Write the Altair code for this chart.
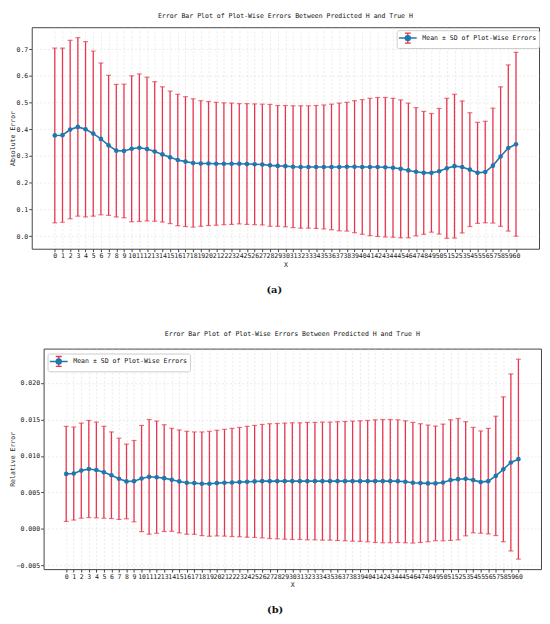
import altair as alt
import pandas as pd

x_vals = list(range(61))

mean_a = [0.377, 0.378, 0.399, 0.409, 0.400, 0.384, 0.364, 0.340, 0.320, 0.319,
          0.327, 0.331, 0.326, 0.317, 0.306, 0.295, 0.285, 0.279, 0.274, 0.272,
          0.272, 0.271, 0.271, 0.271, 0.271, 0.270, 0.269, 0.268, 0.265, 0.263,
          0.262, 0.260, 0.259, 0.259, 0.259, 0.259, 0.259, 0.259, 0.260, 0.260,
          0.259, 0.259, 0.259, 0.258, 0.256, 0.252, 0.246, 0.241, 0.237, 0.237,
          0.243, 0.254, 0.262, 0.259, 0.249, 0.237, 0.240, 0.264, 0.298, 0.330, 0.344]
sd_a = [0.327, 0.326, 0.334, 0.334, 0.328, 0.309, 0.284, 0.262, 0.248, 0.250,
        0.273, 0.276, 0.269, 0.261, 0.253, 0.248, 0.246, 0.243, 0.240, 0.235,
        0.232, 0.230, 0.228, 0.227, 0.225, 0.226, 0.226, 0.226, 0.228, 0.226,
        0.227, 0.228, 0.229, 0.229, 0.230, 0.232, 0.235, 0.239, 0.241, 0.247,
        0.252, 0.257, 0.260, 0.261, 0.260, 0.258, 0.252, 0.240, 0.230, 0.222,
        0.235, 0.262, 0.269, 0.247, 0.213, 0.189, 0.190, 0.215, 0.261, 0.311, 0.344]

mean_b = [0.00754, 0.00759, 0.00799, 0.00821, 0.00808, 0.00776, 0.00736, 0.00687, 0.00651, 0.00655,
          0.00691, 0.00714, 0.00709, 0.00696, 0.00673, 0.00651, 0.00633, 0.00628, 0.00619, 0.00619,
          0.00628, 0.00633, 0.00637, 0.00642, 0.00646, 0.00651, 0.00655, 0.00655, 0.00655, 0.00655,
          0.00655, 0.00655, 0.00655, 0.00655, 0.00655, 0.00655, 0.00655, 0.00655, 0.00655, 0.00655,
          0.00655, 0.00655, 0.00655, 0.00655, 0.00655, 0.00646, 0.00633, 0.00628, 0.00624, 0.00624,
          0.00637, 0.00669, 0.00682, 0.00687, 0.00669, 0.00642, 0.00655, 0.00727, 0.00817, 0.00911, 0.00956]
sd_b = [0.00651, 0.00637, 0.00651, 0.00665, 0.00655, 0.00629, 0.00593, 0.00556, 0.00511, 0.00557,
        0.00727, 0.00785, 0.00768, 0.00731, 0.00705, 0.00705, 0.00705, 0.00701, 0.00710, 0.00719,
        0.00723, 0.00731, 0.00741, 0.00749, 0.00759, 0.00767, 0.00777, 0.00786, 0.00790, 0.00795,
        0.00799, 0.00799, 0.00804, 0.00804, 0.00808, 0.00808, 0.00813, 0.00817, 0.00822, 0.00826,
        0.00831, 0.00840, 0.00844, 0.00844, 0.00840, 0.00835, 0.00826, 0.00813, 0.00799, 0.00785,
        0.00799, 0.00826, 0.00831, 0.00781, 0.00722, 0.00700, 0.00723, 0.00817, 0.00992, 0.01212, 0.01369]

series_label = "Mean \u00b1 SD of Plot-Wise Errors"
title_text = "Error Bar Plot of Plot-Wise Errors Between Predicted H and True H"

ticks_a = [0.0, 0.1, 0.2, 0.3, 0.4, 0.5, 0.6, 0.7]
ticks_b = [-0.005, 0.0, 0.005, 0.010, 0.015, 0.020]

RED = "#e8344c"
BLUE = "#1f78ad"
MONO = "DejaVu Sans Mono"
FS = 6.6


def make_df(mean, sd):
    return pd.DataFrame({
        "x": x_vals,
        "mean": mean,
        "lo": [m - s for m, s in zip(mean, sd)],
        "hi": [m + s for m, s in zip(mean, sd)],
        "series": [series_label] * len(mean),
    })


def panel(df, ytitle, ydom, yticks, yfmt, w, h, lx, ly, toff):
    base = alt.Chart(df)
    xaxis = alt.Axis(values=x_vals, labelAngle=0, labelOverlap=False, labelFlush=False,
                     title="X", titleFont=MONO, titleFontSize=FS, titleFontWeight="normal",
                     titlePadding=2, labelFont=MONO, labelFontSize=FS, labelPadding=1,
                     tickSize=3, tickColor="#444", domain=False, grid=True,
                     gridDash=[2, 2], gridColor="#dddddd", gridWidth=0.6,
                     labelColor="#222", titleColor="#222")
    yaxis = alt.Axis(values=yticks, format=yfmt, title=ytitle, titleFont=MONO,
                     titleFontSize=FS, titleFontWeight="normal", titlePadding=1,
                     labelFont=MONO, labelFontSize=FS, labelPadding=1, tickSize=3,
                     tickColor="#444", domain=False, grid=True, gridDash=[2, 2],
                     gridColor="#dddddd", gridWidth=0.6, labelColor="#222", titleColor="#222")
    X = alt.X("x:Q", scale=alt.Scale(domain=[-3, 63], nice=False, zero=False), axis=xaxis)
    ysc = alt.Scale(domain=ydom, nice=False, zero=False)

    leg_common = dict(orient="none", legendX=lx, legendY=ly, title=None,
                      labelFont=MONO, labelFontSize=FS, symbolSize=100,
                      padding=2, labelOffset=12, rowPadding=0)
    red_leg = alt.Legend(symbolType="M0.66,-1V1M0.06,-1H1.26M0.06,1H1.26",
                         symbolStrokeWidth=1.3, symbolStrokeColor=RED,
                         strokeColor="#cccccc", fillColor="#ffffff", cornerRadius=2,
                         labelColor="#111", **leg_common)
    blue_leg = alt.Legend(symbolType="M-1.14,0H2.46M0.16,0A0.5,0.5,0,1,0,1.16,0A0.5,0.5,0,1,0,0.16,0Z",
                          symbolStrokeWidth=1.5, symbolStrokeColor=BLUE, symbolFillColor=BLUE,
                          labelOpacity=0, **leg_common)

    rule = base.mark_rule(strokeWidth=1.3).encode(
        x=X,
        y=alt.Y("lo:Q", scale=ysc, axis=yaxis, title=ytitle),
        y2="hi:Q",
        color=alt.Color("series:N", scale=alt.Scale(range=[RED]), legend=red_leg),
    )
    cap_hi = base.mark_tick(orient="horizontal", size=5, thickness=1.2, color=RED).encode(
        x=X, y=alt.Y("hi:Q", scale=ysc, axis=yaxis, title=ytitle))
    cap_lo = base.mark_tick(orient="horizontal", size=5, thickness=1.2, color=RED).encode(
        x=X, y=alt.Y("lo:Q", scale=ysc, axis=yaxis, title=ytitle))
    line = base.mark_line(strokeWidth=1.6).encode(
        x=X, y=alt.Y("mean:Q", scale=ysc, axis=yaxis, title=ytitle),
        color=alt.Color("series:N", scale=alt.Scale(range=[BLUE]), legend=blue_leg),
    )
    pts = base.mark_circle(size=22, color=BLUE, opacity=1).encode(
        x=X, y=alt.Y("mean:Q", scale=ysc, axis=yaxis, title=ytitle))

    return alt.layer(rule, cap_hi, cap_lo, line, pts).resolve_scale(color="independent").properties(
        width=w, height=h,
        title=alt.TitleParams(title_text, font=MONO, fontSize=FS, fontWeight="normal",
                              anchor="middle", offset=toff, color="#111"),
    )


pa = panel(make_df(mean_a, sd_a), "Absolute Error", [-0.047, 0.782], ticks_a, ".1f",
           513, 224, 369, 3, 8)
pb = panel(make_df(mean_b, sd_b), "Relative Error", [-0.0055, 0.0247], ticks_b, ".3f",
           503, 223, 4, 5, 11)


def cap(ch, txt):
    return alt.vconcat(ch).properties(
        title=alt.TitleParams(txt, orient="bottom", font="DejaVu Serif", fontSize=10,
                              fontWeight="bold", anchor="middle", offset=17, color="#111")
    ).resolve_scale(color="independent")


spacer = alt.Chart(pd.DataFrame({"s": [0]})).mark_point(opacity=0).encode(
    x=alt.value(0), y=alt.value(0)
).properties(width=12, height=10, view=alt.ViewBackground(stroke=None))

bottom = alt.hconcat(spacer, cap(pb, "(b)"), spacing=0, bounds="flush").resolve_scale(color="independent")

chart = alt.concat(cap(pa, "(a)"), bottom, columns=1, align="none", spacing=35) \
    .resolve_scale(color="independent") \
    .configure_view(stroke="#444", strokeWidth=1) \
    .properties(padding={"left": 0, "top": 0, "right": 0, "bottom": 0})

chart.save("out.html", embed_options={"renderer": "svg", "actions": False})
